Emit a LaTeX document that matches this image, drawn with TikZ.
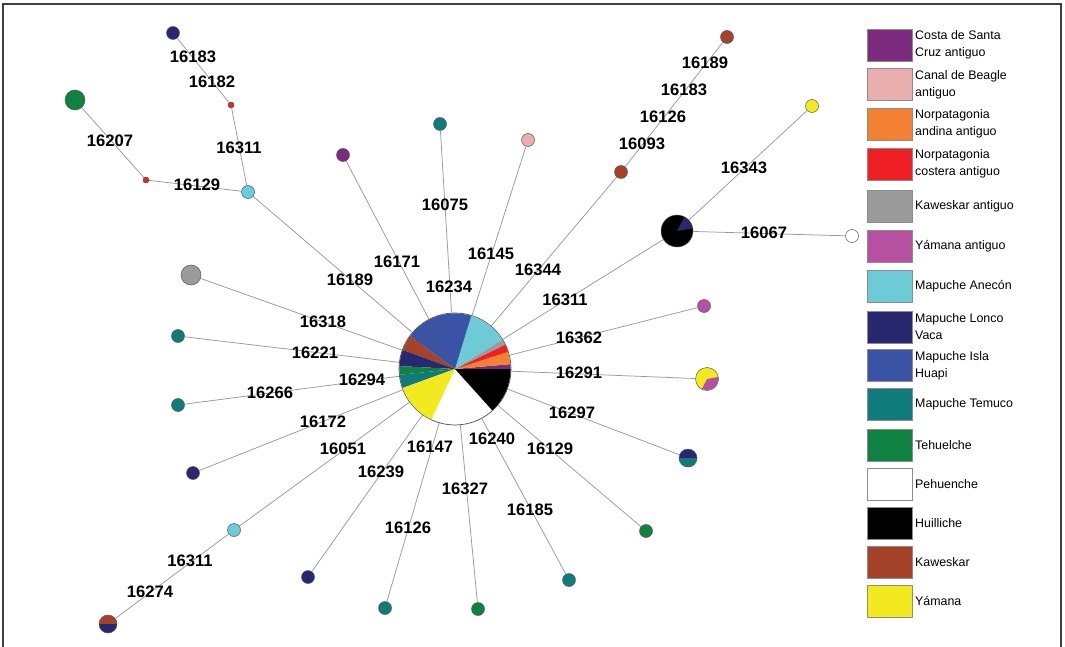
\documentclass[tikz,border=0pt]{standalone}
\usepackage{fontspec}
\setmainfont{Liberation Sans}

% haplogroup colours
\definecolor{costa}{HTML}{7B2A7E}
\definecolor{beagle}{HTML}{E9AEAE}
\definecolor{andina}{HTML}{F28133}
\definecolor{costera}{HTML}{EE2024}
\definecolor{kawant}{HTML}{9B9B9B}
\definecolor{yamant}{HTML}{B551A0}
\definecolor{anecon}{HTML}{6DCBD8}
\definecolor{lonco}{HTML}{27286F}
\definecolor{huapi}{HTML}{3A53A4}
\definecolor{temuco}{HTML}{0F7B7B}
\definecolor{tehuel}{HTML}{0F8140}
\definecolor{kawes}{HTML}{A5432A}
\definecolor{yamana}{HTML}{F2EA1E}

% wedge of a pie: colour, centre, start, end, radius
\newcommand{\pieslice}[5]{%
	\fill[#1] (#2) -- ++(#3:#5) arc[start angle=#3, end angle=#4, radius=#5] -- cycle;}

\tikzset{
	hap/.style={circle, draw=black!65, line width=0.5pt, inner sep=0pt, minimum size=13pt},
	bighap/.style={hap, minimum size=20pt},
	tiny/.style={hap, minimum size=6pt, fill=costera},
	link/.style={draw=black!40, line width=0.75pt},
	mut/.style={font=\bfseries\fontsize{16.6}{16.6}\selectfont, inner sep=0pt},
	keybox/.style={draw=black!45, line width=0.6pt, minimum width=45pt, minimum height=32pt, inner sep=0pt},
	keytext/.style={anchor=west, align=left, inner sep=0pt, font=\fontsize{12.4}{17}\selectfont}
}

\begin{document}
\begin{tikzpicture}[x=1pt,y=1pt]

	\useasboundingbox (0,0) rectangle (1065,-647);

	% frame
	\draw[black!75, line width=1.2pt] (3,-650) -- (3,-4) -- (1061,-4) -- (1061,-650);

	% central haplotype
	\node[circle, draw=black!70, line width=0.7pt, minimum size=112pt, inner sep=0pt] (hub) at (455,-369) {};

	% upper left branch
	\node[hap, fill=lonco]  (tlNavy)  at (173,-33)  {};
	\node[tiny]             (tlRedA)  at (231,-105) {};
	\node[hap, fill=anecon] (tlCyan)  at (248,-192) {};
	\node[tiny]             (tlRedB)  at (146,-180) {};
	\node[bighap, fill=tehuel] (tlGreen) at (75,-100) {};

	% haplotypes round the hub
	\node[hap, fill=costa]   (sPurple)  at (343,-155) {};
	\node[hap, fill=temuco]  (sTealA)   at (440,-124) {};
	\node[hap, fill=beagle]  (sPink)    at (528,-140) {};
	\node[hap, fill=kawes]   (sBrownA)  at (621,-172) {};
	\node[hap, fill=kawes]   (sBrownB)  at (727,-37)  {};
	\node[hap, fill=black, minimum size=32pt] (sBlack) at (677,-231) {};
	\node[hap, fill=yamana]  (sYellow)  at (812,-106) {};
	\node[hap, fill=white]   (sWhite)   at (852,-236) {};
	\node[hap, fill=yamant]  (sMag)     at (704,-306) {};
	\node[hap, fill=yamana, minimum size=23pt] (sYelMag) at (707,-379) {};
	\node[hap, fill=lonco, minimum size=18pt]  (sNavTeal) at (688,-458) {};
	\node[hap, fill=tehuel]  (sGreenA)  at (646,-531) {};
	\node[hap, fill=temuco]  (sTealB)   at (569,-580) {};
	\node[hap, fill=tehuel]  (sGreenB)  at (478,-609) {};
	\node[hap, fill=temuco]  (sTealC)   at (385,-608) {};
	\node[hap, fill=lonco]   (sNavyA)   at (308,-577) {};
	\node[hap, fill=anecon]  (sCyan)    at (234,-530) {};
	\node[hap, fill=kawes, minimum size=18pt]  (sNavBrown) at (108,-624) {};
	\node[hap, fill=lonco]   (sNavyB)   at (193,-473) {};
	\node[hap, fill=temuco]  (sTealD)   at (178,-405) {};
	\node[hap, fill=temuco]  (sTealE)   at (178,-336) {};
	\node[bighap, fill=kawant] (sGray)  at (191,-275) {};

	% links
	\draw[link] (tlNavy) -- (tlRedA) -- (tlCyan);
	\draw[link] (tlGreen) -- (tlRedB) -- (tlCyan);
	\foreach \n in {tlCyan, sPurple, sTealA, sPink, sBrownA, sBlack, sMag, sYelMag, sNavTeal,
		sGreenA, sTealB, sGreenB, sTealC, sNavyA, sCyan, sNavyB, sTealD, sTealE, sGray}
		\draw[link] (\n) -- (hub);
	\draw[link] (sBrownB) -- (sBrownA);
	\draw[link] (sBlack) -- (sYellow);
	\draw[link] (sBlack) -- (sWhite);
	\draw[link] (sCyan) -- (sNavBrown);

	% hub pie
	\pieslice{costa}{hub.center}{0}{5}{55.6pt}
	\pieslice{andina}{hub.center}{5}{18}{55.6pt}
	\pieslice{costera}{hub.center}{18}{26}{55.6pt}
	\pieslice{kawant}{hub.center}{26}{32}{55.6pt}
	\pieslice{anecon}{hub.center}{32}{73}{55.6pt}
	\pieslice{huapi}{hub.center}{73}{144}{55.6pt}
	\pieslice{kawes}{hub.center}{144}{160}{55.6pt}
	\pieslice{lonco}{hub.center}{160}{177}{55.6pt}
	\pieslice{tehuel}{hub.center}{177}{186}{55.6pt}
	\pieslice{temuco}{hub.center}{186}{200}{55.6pt}
	\pieslice{yamana}{hub.center}{200}{245}{55.6pt}
	\pieslice{black}{hub.center}{312}{360}{55.6pt}

	% mixed haplotypes
	\pieslice{lonco}{sBlack.center}{10}{62}{15.7pt}
	\pieslice{yamant}{sYelMag.center}{-117}{10}{11.2pt}
	\pieslice{temuco}{sNavTeal.center}{180}{360}{8.7pt}
	\pieslice{lonco}{sNavBrown.center}{180}{360}{8.7pt}

	% mutations, upper left
	\node[mut] (m16183a) at (193,-57)  {16183};
	\node[mut] (m16182)  at (212,-82)  {16182};
	\node[mut] (m16311a) at (239,-148) {16311};
	\node[mut] (m16207)  at (110,-141) {16207};
	\node[mut] (m16129a) at (197,-185) {16129};
	\node[mut] (m16189a) at (350,-280) {16189};

	% mutations, top
	\node[mut] (m16171)  at (397,-262) {16171};
	\node[mut] (m16075)  at (445,-205) {16075};
	\node[mut] (m16234)  at (449,-287) {16234};
	\node[mut] (m16145)  at (491,-254) {16145};
	\node[mut] (m16344)  at (538,-270) {16344};

	% mutations, upper right
	\node[mut] (m16189b) at (705,-63)  {16189};
	\node[mut] (m16183b) at (684,-90)  {16183};
	\node[mut] (m16126a) at (663,-117) {16126};
	\node[mut] (m16093)  at (642,-144) {16093};
	\node[mut] (m16311b) at (565,-300) {16311};
	\node[mut] (m16343)  at (744,-168) {16343};
	\node[mut] (m16067)  at (764,-233) {16067};
	\node[mut] (m16362)  at (579,-338) {16362};
	\node[mut] (m16291)  at (579,-373) {16291};
	\node[mut] (m16297)  at (572,-413) {16297};

	% mutations, bottom
	\node[mut] (m16129b) at (550,-449) {16129};
	\node[mut] (m16240)  at (492,-439) {16240};
	\node[mut] (m16185)  at (530,-510) {16185};
	\node[mut] (m16327)  at (465,-489) {16327};
	\node[mut] (m16147)  at (430,-447) {16147};
	\node[mut] (m16126b) at (408,-528) {16126};
	\node[mut] (m16239)  at (381,-472) {16239};
	\node[mut] (m16051)  at (343,-449) {16051};
	\node[mut] (m16311c) at (190,-561) {16311};
	\node[mut] (m16274)  at (150,-592) {16274};

	% mutations, left
	\node[mut] (m16172)  at (323,-422) {16172};
	\node[mut] (m16266)  at (270,-393) {16266};
	\node[mut] (m16294)  at (362,-380) {16294};
	\node[mut] (m16221)  at (315,-353) {16221};
	\node[mut] (m16318)  at (323,-322) {16318};

	% legend
	\foreach \y/\c/\t in {45/costa/{Costa de Santa\\Cruz antiguo},
		84.5/beagle/{Canal de Beagle\\antiguo},
		124/andina/{Norpatagonia\\andina antiguo},
		164/costera/{Norpatagonia\\costera antiguo},
		206/kawant/{Kaweskar antiguo},
		246/yamant/{Yámana antiguo},
		286/anecon/{Mapuche Anecón},
		327/lonco/{Mapuche Lonco\\Vaca},
		365.5/huapi/{Mapuche Isla\\Huapi},
		404.5/temuco/{Mapuche Temuco},
		445/tehuel/{Tehuelche},
		484/white/{Pehuenche},
		523/black/{Huilliche},
		562.5/kawes/{Kaweskar},
		601/yamana/{Yámana}}
	{
		\node[keybox, fill=\c] (k\c) at (889.5,-\y) {};
		\node[keytext] (t\c) at (915,-\y) {\t};
	}

\end{tikzpicture}
\end{document}
